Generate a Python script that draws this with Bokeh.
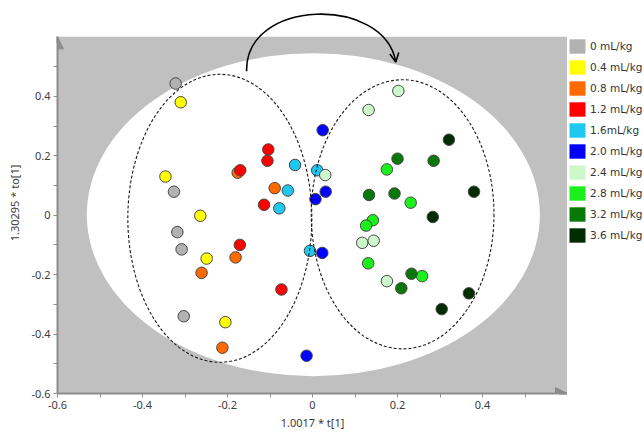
from bokeh.plotting import figure
from bokeh.models import (ColumnDataSource, FixedTicker, Arrow, NormalHead, OpenHead,
                          Legend, LegendItem)
from bokeh.layouts import row
from bokeh.embed import file_html
from bokeh.resources import INLINE

# groups (dose) and colours
doses = ["0 mL/kg", "0.4 mL/kg", "0.8 mL/kg", "1.2 mL/kg", "1.6mL/kg",
         "2.0 mL/kg", "2.4 mL/kg", "2.8 mL/kg", "3.2 mL/kg", "3.6 mL/kg"]
colors = ["#b2b2b2", "#ffff00", "#ff6a00", "#ff0000", "#1ec8f0",
          "#0000ff", "#ccf8cc", "#1cf01c", "#087808", "#002c00"]

# score values t[1] / to[1]
t_00 = [-0.322, -0.326, -0.318, -0.308, -0.303]
to_00 = [0.443, 0.079, -0.057, -0.115, -0.340]
t_04 = [-0.310, -0.346, -0.264, -0.249, -0.205]
to_04 = [0.380, 0.130, -0.002, -0.146, -0.360]
t_08 = [-0.176, -0.089, -0.181, -0.261, -0.212]
to_08 = [0.143, 0.091, -0.142, -0.194, -0.446]
t_12 = [-0.104, -0.106, -0.170, -0.114, -0.171, -0.073]
to_12 = [0.221, 0.183, 0.151, 0.035, -0.100, -0.250]
t_16 = [-0.041, -0.058, -0.078, 0.011, -0.006]
to_16 = [0.169, 0.083, 0.023, 0.151, -0.120]
t_20 = [0.024, 0.031, 0.007, 0.023, -0.014]
to_20 = [0.286, 0.079, 0.054, -0.127, -0.473]
t_24 = [0.202, 0.132, 0.030, 0.117, 0.144, 0.175]
to_24 = [0.418, 0.354, 0.135, -0.093, -0.086, -0.222]
t_28 = [0.175, 0.231, 0.142, 0.126, 0.131, 0.258]
to_28 = [0.154, 0.042, -0.017, -0.035, -0.162, -0.205]
t_32 = [0.200, 0.285, 0.133, 0.193, 0.233, 0.209]
to_32 = [0.190, 0.183, 0.068, 0.073, -0.197, -0.246]
t_36 = [0.321, 0.380, 0.283, 0.368, 0.304]
to_36 = [0.254, 0.079, -0.006, -0.263, -0.316]

xs = [t_00, t_04, t_08, t_12, t_16, t_20, t_24, t_28, t_32, t_36]
ys = [to_00, to_04, to_08, to_12, to_16, to_20, to_24, to_28, to_32, to_36]

# Hotelling ellipse and the two group ellipses: centre x, centre y, width, height
t2_ellipse = [0.002, 0.0015, 1.066, 1.087]
group_ellipses_x = [-0.218, 0.212]
group_ellipses_y = [-0.0105, 0.003]
group_ellipses_w = [0.433, 0.43]
group_ellipses_h = [0.969, 0.906]

# curved arrow from the low-dose group to the high-dose group
arc_start = (-0.155, 0.484)
arc_end = (0.196, 0.515)
arc_ctrl1 = (-0.16, 0.73)
arc_ctrl2 = (0.17, 0.74)

x_lim = (-0.6, 0.6)
y_lim = (-0.6, 0.6)
x_ticks = [-0.6, -0.4, -0.2, 0, 0.2, 0.4]
x_tick_labels = ["-0.6", "-0.4", "-0.2", "0", "0.2", "0.4"]
x_minor = [-0.5, -0.3, -0.1, 0.1, 0.3, 0.5]
y_ticks = [-0.6, -0.4, -0.2, 0, 0.2, 0.4]
y_tick_labels = ["-0.6", "-0.4", "-0.2", "0", "0.2", "0.4"]
y_minor = [-0.5, -0.3, -0.1, 0.1, 0.3, 0.5]

axis_gray = "#8c8c8c"
bg_gray = "#c0c0c0"
text_gray = "#3c3c3c"

p = figure(width=567, height=432, x_range=x_lim, y_range=(-0.6, 0.682),
           output_backend="svg", toolbar_location=None,
           min_border_left=57, min_border_right=0, min_border_top=12, min_border_bottom=38)
p.background_fill_color = "white"
p.border_fill_color = "white"
p.outline_line_color = None
p.xgrid.visible = False
p.ygrid.visible = False

# grey area with the white T2 ellipse
p.quad(left=x_lim[0], right=x_lim[1], bottom=y_lim[0], top=y_lim[1],
       fill_color=bg_gray, line_color=None)
p.ellipse(x=t2_ellipse[0], y=t2_ellipse[1], width=t2_ellipse[2], height=t2_ellipse[3],
          fill_color="white", line_color=None)

# points
for i in range(len(doses)):
    src = ColumnDataSource(data={"x": xs[i], "y": ys[i]})
    p.scatter(x="x", y="y", source=src, marker="circle", size=11.5,
              fill_color=colors[i], line_color="#474747", line_width=1)

# dashed group ellipses
p.ellipse(x=group_ellipses_x, y=group_ellipses_y, width=group_ellipses_w,
          height=group_ellipses_h, fill_color=None, line_color="#1a1a1a",
          line_width=1.1, line_dash="3 2")

# curved arrow
p.bezier(x0=[arc_start[0]], y0=[arc_start[1]], x1=[arc_end[0]], y1=[arc_end[1]],
         cx0=[arc_ctrl1[0]], cy0=[arc_ctrl1[1]], cx1=[arc_ctrl2[0]], cy1=[arc_ctrl2[1]],
         line_color="black", line_width=1.6)
p.add_layout(Arrow(end=OpenHead(size=9, line_color="black", line_width=1.6),
                   x_start=arc_end[0] + 0.05 * (arc_ctrl2[0] - arc_end[0]),
                   y_start=arc_end[1] + 0.05 * (arc_ctrl2[1] - arc_end[1]),
                   x_end=arc_end[0], y_end=arc_end[1],
                   line_color="black", line_width=1.6))

# axis arrow heads
p.add_layout(Arrow(end=NormalHead(size=12, fill_color=axis_gray, line_color=axis_gray),
                   x_start=x_lim[1] - 0.02, y_start=y_lim[0], x_end=x_lim[1], y_end=y_lim[0],
                   line_color=axis_gray, line_width=2))
p.add_layout(Arrow(end=NormalHead(size=12, fill_color=axis_gray, line_color=axis_gray),
                   x_start=x_lim[0], y_start=y_lim[1] - 0.02, x_end=x_lim[0], y_end=y_lim[1],
                   line_color=axis_gray, line_width=2))

# axes
for ax, ticks, minor, labels in ((p.xaxis[0], x_ticks, x_minor, x_tick_labels),
                                 (p.yaxis[0], y_ticks, y_minor, y_tick_labels)):
    ax.ticker = FixedTicker(ticks=ticks, minor_ticks=minor)
    ax.major_label_overrides = dict(zip(ticks, labels))
    ax.axis_line_color = axis_gray
    ax.axis_line_width = 2
    ax.major_tick_line_color = axis_gray
    ax.minor_tick_line_color = axis_gray
    ax.major_tick_out = 4
    ax.major_tick_in = 0
    ax.minor_tick_out = 4
    ax.minor_tick_in = 0
    ax.major_label_text_font = "Noto Sans"
    ax.major_label_text_font_size = "11px"
    ax.major_label_text_color = text_gray
    ax.major_label_standoff = 3
    ax.axis_label_text_font = "Noto Sans"
    ax.axis_label_text_font_size = "11px"
    ax.axis_label_text_font_style = "normal"
    ax.axis_label_text_color = text_gray
p.yaxis.bounds = y_lim
p.yaxis.axis_label = "1.30295 * to[1]"
p.yaxis.axis_label_standoff = 6
p.xaxis.axis_label = "1.0017 * t[1]"
p.xaxis.axis_label_standoff = 3

# legend panel on the right, filled squares (swatch data lies outside the ranges)
lg = figure(width=77, height=432, x_range=(0, 1), y_range=(0, 1),
            output_backend="svg", toolbar_location=None,
            min_border_left=0, min_border_right=0, min_border_top=0, min_border_bottom=0)
lg.axis.visible = False
lg.grid.visible = False
lg.outline_line_color = None
lg.background_fill_color = "white"
lg.border_fill_color = "white"
items = []
for i in range(len(doses)):
    r = lg.quad(left=[5], right=[6], bottom=[5], top=[6], fill_color=colors[i], line_color=None)
    items.append(LegendItem(label=doses[i], renderers=[r]))
legend = Legend(items=items, location=(0, 149), margin=0, padding=0,
                glyph_width=20, glyph_height=18, label_height=18, spacing=3,
                label_standoff=3, label_text_font="DejaVu Sans",
                label_text_font_size="10.5px", label_text_color="#333333",
                border_line_color=None, background_fill_color="white")
lg.add_layout(legend)

layout = row(p, lg)
open("out.html", "w").write(file_html(layout, INLINE))
